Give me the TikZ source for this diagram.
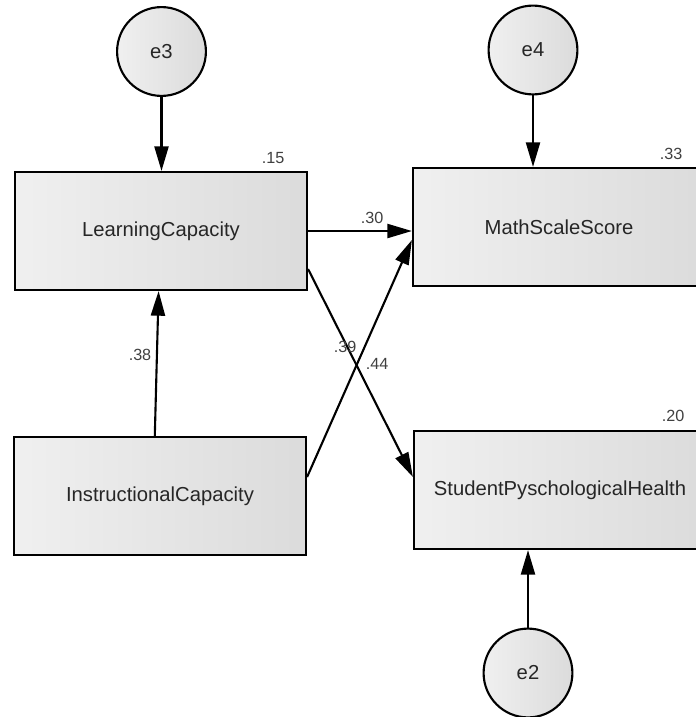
\documentclass[tikz,border=0pt]{standalone}
\usepackage{fontspec}
\setmainfont{Liberation Sans}
\usepackage{tikz}
\usetikzlibrary{arrows.meta}

\tikzset{
  varbox/.style={draw,line width=1.5pt,left color=black!6,right color=black!14,
    minimum width=7.3cm,minimum height=2.95cm,inner sep=0pt,
    font=\fontsize{14.4}{16}\selectfont,text=black!85},
  errvar/.style={circle,draw,line width=1.5pt,left color=black!6,right color=black!14,
    minimum size=2.22cm,inner sep=0pt,font=\fontsize{14.4}{16}\selectfont,text=black!85},
  reg/.style={line width=1.5pt,-{Triangle[length=17.5pt,width=10pt]}},
  coef/.style={font=\fontsize{11.5}{13}\selectfont,text=black!75,inner sep=0pt}
}

\begin{document}
\begin{tikzpicture}[x=0.025cm,y=-0.025cm]
\useasboundingbox (0,0) rectangle (696,717);
\clip (0,0) rectangle (696,717);
% observed variables
\node[varbox] (LC) at (161,231) {LearningCapacity};
\node[varbox] (IC) at (160,496) {InstructionalCapacity};
\node[varbox] (MSS) at (559,227) {MathScaleScore};
\node[varbox] (SPH) at (560,490) {StudentPyschologicalHealth};
% error terms
\node[errvar] (e3) at (161.5,51.5) {e3};
\node[errvar] (e4) at (533,50) {e4};
\node[errvar] (e2) at (528,673) {e2};
% paths
\draw[reg] (e3) -- (e3 |- LC.north);
\draw[reg] (e4) -- (e4 |- MSS.north);
\draw[reg] (e2) -- (e2 |- SPH.south);
\draw[reg] ([xshift=-1.3mm]IC.north) -- ([xshift=-0.6mm]LC.south);
\draw[reg] (LC.east) -- (LC.east -| MSS.west);
\draw[reg] ([yshift=0.55cm]LC.south east) -- ([yshift=0.325cm]SPH.west);
\draw[reg] ([yshift=0.475cm]IC.east) -- ([yshift=-0.325cm]MSS.west);
% estimates
\node[coef] (r2LC) at (273,158) {.15};
\node[coef] (r2MSS) at (671,154) {.33};
\node[coef] (r2SPH) at (673,416) {.20};
\node[coef] (bLCMSS) at (372,218) {.30};
\node[coef] (bLCSPH) at (345,347) {.39};
\node[coef] (bICMSS) at (377,364) {.44};
\node[coef] (bICLC) at (140,355) {.38};
\end{tikzpicture}
\end{document}
